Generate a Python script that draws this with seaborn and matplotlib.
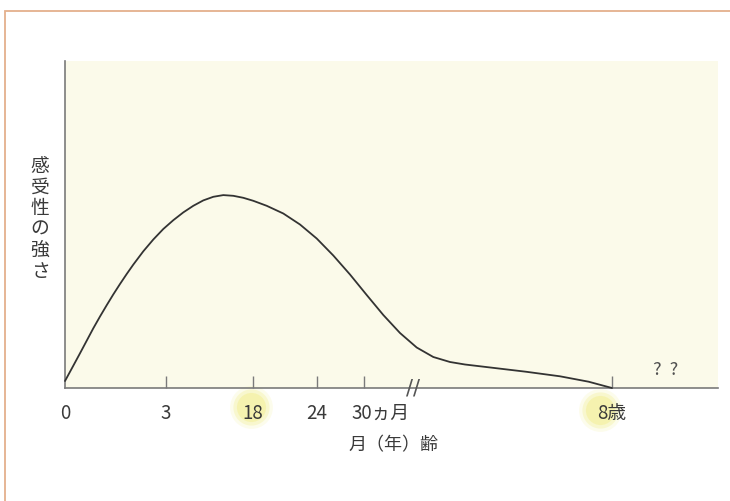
import numpy as np
import pandas as pd
import seaborn as sns
import matplotlib.pyplot as plt
from matplotlib.patches import Rectangle
from matplotlib.transforms import ScaledTranslation

# schematic position along the age axis (not to scale) and sensitivity level
position = [0, 8.3, 15, 21.7, 28.3, 35, 41.7, 48.3, 55, 61.7, 68.3, 78.3,
            88.3, 98.3, 108.3, 118.3, 128.3, 138.3, 148.3, 158.3, 168.3,
            178.3, 188.3, 201.7, 218.3, 235, 251.7, 268.3, 285, 301.7,
            318.3, 335, 351.7, 368.3, 385, 400, 423.6, 460.7, 495, 523.6,
            541.4, 547]
strength = [7, 22.3, 34.7, 47.3, 59.7, 71.5, 82.8, 93.6, 104, 114, 123.4, 136.7,
            148.5, 159, 167.8, 175.6, 182.2, 187.6, 191.2, 192.9, 192.2,
            190.2, 187.2, 182.2, 174.5, 163.5, 149.5, 132.5, 113.5, 93,
            73, 55, 40.5, 31, 26, 23.5, 20.7, 16.3, 11.7, 6.3,
            1.5, 0]

tick_pos = [0, 101, 188, 252, 299, 547]
tick_labels = ["0", "3", "18", "24", "30ヵ月", "8歳"]
highlight_ticks = [2, 5]          # 18 and 8歳 are marked with yellow
break_pos = 348
unknown_pos = 601
unknown_label = "?  ?"
x_max = 653
y_max = 327

x_title = "月（年）齢"
y_title = "感受性の強さ"

sns.set_theme(style="white")
plt.rcParams["font.family"] = ["Noto Sans CJK JP", "DejaVu Sans"]

df = pd.DataFrame({"position": position, "strength": strength})

fig = plt.figure(figsize=(7.3, 5.02), dpi=100)
ax = fig.add_axes([65 / 730, 1 - 389 / 502, 653 / 730, 327 / 502])
ax.set_facecolor("#fbfaea")
ax.set_axisbelow(False)

sns.lineplot(data=df, x="position", y="strength", color="#333333",
             linewidth=1.3, ax=ax, clip_on=False, zorder=3)

ax.set_xlim(0, x_max)
ax.set_ylim(0, y_max)

for side in ["top", "right"]:
    ax.spines[side].set_visible(False)
for side in ["left", "bottom"]:
    ax.spines[side].set_color("#7a7a7a")
    ax.spines[side].set_linewidth(1.2)

ax.set_yticks([])
ax.set_xticks(tick_pos)
ax.set_xticklabels(tick_labels, fontsize=13.5, color="#3a3a3a")
ax.tick_params(axis="x", direction="in", length=9, width=1.0,
               color="#7a7a7a", pad=10, bottom=True)
ax.xaxis.get_major_ticks()[0].tick1line.set_visible(False)

# "30ヵ月" starts a little left of its tick
lbl = ax.get_xticklabels()[4]
lbl.set_horizontalalignment("left")
lbl.set_transform(lbl.get_transform() + ScaledTranslation(-13 / 100, 0, fig.dpi_scale_trans))

# soft yellow marker behind highlighted tick labels
for i in highlight_ticks:
    x = tick_pos[i] - (2 if i == 2 else 12)
    y = -19 if i == 2 else -22
    for s, a in [(950, 0.16), (680, 0.3), (440, 0.45)]:
        ax.scatter([x], [y], s=s, color="#f2ee8a", alpha=a, linewidths=0,
                   clip_on=False, zorder=1)

ax.text(break_pos, 0, "//", fontsize=15, color="#555555", ha="center",
        va="center", clip_on=False, family=["DejaVu Sans"])
ax.text(unknown_pos, 19, unknown_label, fontsize=13, color="#505050",
        ha="center", va="center")

ax.set_xlabel(x_title, fontsize=13, color="#3a3a3a")
ax.xaxis.set_label_coords((393 - 65) / 653, (389 - 445) / 327)
ax.xaxis.label.set_va("center")

ax.set_ylabel("\n".join(y_title), rotation=0, fontsize=13.5, color="#3a3a3a",
              linespacing=1.0, ha="center", va="center")
ax.yaxis.set_label_coords((40 - 65) / 653, (389 - 219) / 327)

# outer frame of the figure panel
fig.patches.append(Rectangle((5 / 730, -0.1), 1.1, 1 - 12 / 502 + 0.1,
                             transform=fig.transFigure, fill=False,
                             edgecolor="#e4b08c", linewidth=1.3))

fig.savefig("out.png", dpi=100)
